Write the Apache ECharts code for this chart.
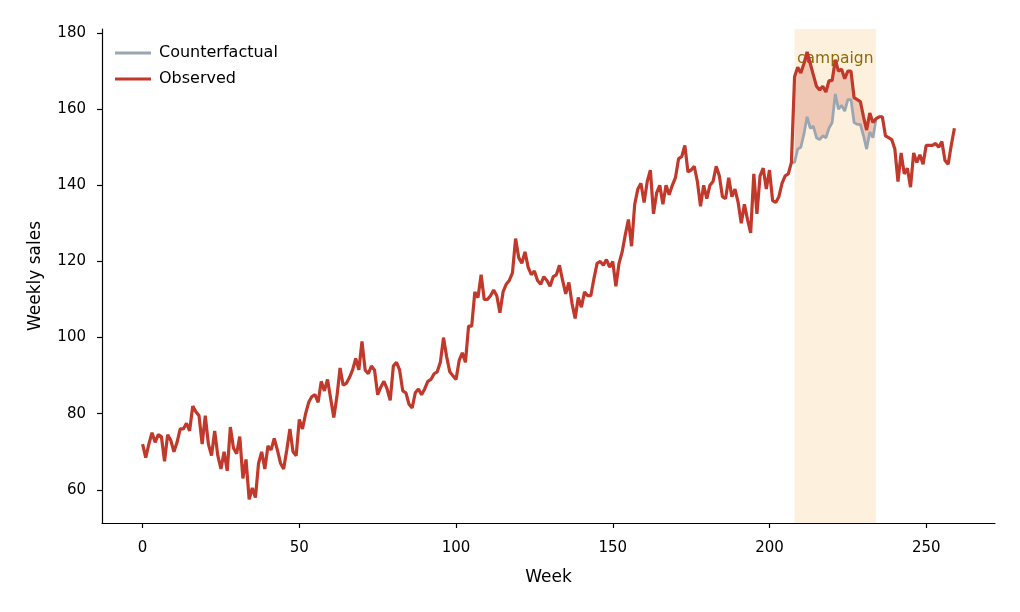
<!DOCTYPE html>
<html>
<head>
<meta charset="utf-8">
<script src="https://cdn.jsdelivr.net/npm/echarts@6/dist/echarts.min.js"></script>
<style>
  html, body { margin: 0; padding: 0; background: #fff; }
  #chart { width: 1020px; height: 612px; }
</style>
</head>
<body>
<div id="chart"></div>
<script>
// weekly observed sales, week 0..259
var observed = [
  72, 68.5, 72, 75, 72.5, 74.5, 74, 67.5, 74.5, 73,
  70, 72.5, 76, 76, 77.5, 75.5, 82, 80.5, 79.5, 72,
  79.5, 72, 69, 75.5, 69, 65.5, 70, 65, 76.5, 71,
  69.5, 74, 63, 68, 57.5, 60.5, 58, 67, 70, 65.5,
  71.5, 70.5, 73.5, 70.5, 67, 65.5, 70.5, 76, 70, 69,
  78.5, 76, 80, 83, 84.5, 85, 83, 88.5, 86, 89,
  84, 79, 84.5, 92, 87.5, 88, 89.5, 91.5, 94.5, 91.5,
  99, 91.5, 90.5, 92.5, 91.5, 85, 87, 88.5, 86.5, 83.5,
  92.5, 93.5, 91.5, 86, 85.5, 82.5, 81.5, 85.5, 86.5, 85,
  86.5, 88.5, 89, 90.5, 91, 93.5, 100, 95, 91, 90,
  89, 94, 96, 93.5, 103, 103, 112, 110.5, 116.5, 110,
  110, 111, 112.5, 111, 106.5, 112, 114, 115, 117, 126,
  121, 119.5, 122.5, 118.5, 116.5, 117.5, 115, 114, 116, 115,
  113.5, 116, 116.5, 119, 115, 111.5, 114.5, 109, 105, 110.5,
  108, 112, 111, 111, 115.5, 119.5, 120, 119, 120.5, 118.5,
  120, 113.5, 119.5, 122.5, 127, 131, 124, 135, 139, 140.5,
  135.5, 141, 144, 132.5, 138, 140, 135, 140, 137.5, 140,
  142, 147, 147.5, 150.5, 143.5, 144, 145, 141, 134.5, 140,
  136.5, 140, 141, 145, 142.5, 137, 136.5, 142, 137, 139,
  135.5, 130, 135, 131, 127.5, 143, 132.5, 142.5, 144.5, 139,
  144, 136, 135.5, 137, 140.5, 142.5, 143, 146, 168.5, 171,
  169.5, 172, 175, 172, 169, 166, 165, 166, 164.5, 167.5,
  167.5, 173, 170, 170.5, 168, 170, 170, 163, 162.5, 162,
  158, 154.5, 159, 156.5, 157.5, 158, 158, 153, 152.5, 152,
  149.5, 141, 148.5, 143, 144.5, 139.5, 148.5, 146, 148, 145.5,
  150.5, 150.5, 150.5, 151, 150, 151.5, 146.5, 145.5, 150.5, 155
];

// campaign window and counterfactual estimate inside it
var campaignStart = 208;
var campaignEnd = 234;
var counterfactual = [
  146, 149.5, 150, 153.5, 158, 155, 155.5, 152.5, 152, 153,
  152.5, 155, 156.5, 164, 160, 161, 159.5, 162.5, 162.5, 156.5,
  156, 156, 153, 149.5, 154, 152.5
];

var xTicks = [0, 50, 100, 150, 200, 250];
var yTicks = [60, 80, 100, 120, 140, 160, 180];

var RED = '#c0392b';
var GREY = '#9aa6b2';
var FONT = 'DejaVu Sans';

var obsData = observed.map(function (v, i) { return [i, v]; });

// counterfactual line joins the observed line at both ends of the window
var cfData = [[campaignStart - 1, observed[campaignStart - 1]]];
counterfactual.forEach(function (v, i) { cfData.push([campaignStart + i, v]); });
cfData.push([campaignEnd, observed[campaignEnd]]);

var chart = echarts.init(document.getElementById('chart'), null, { renderer: 'canvas' });

var option = {
  animation: false,
  backgroundColor: '#fff',
  textStyle: { fontFamily: FONT },
  grid: { left: 102, right: 25, top: 29, bottom: 89 },
  legend: {
    data: ['Counterfactual', 'Observed'],
    orient: 'vertical',
    left: 110,
    top: 40,
    itemWidth: 36,
    itemHeight: 3,
    itemGap: 10,
    icon: 'rect',
    textStyle: { fontFamily: FONT, fontSize: 16, color: '#000', padding: [0, 0, 0, 3] }
  },
  xAxis: {
    type: 'value',
    min: -12.95,
    max: 271.95,
    name: 'Week',
    nameLocation: 'middle',
    nameGap: 46,
    nameTextStyle: { fontFamily: FONT, fontSize: 17, color: '#000' },
    axisLine: { onZero: false, lineStyle: { color: '#000', width: 1.2 } },
    axisTick: { length: 5, lineStyle: { color: '#000', width: 1.2 }, customValues: xTicks },
    axisLabel: { customValues: xTicks, fontSize: 15, color: '#000', margin: 18 },
    splitLine: { show: false }
  },
  yAxis: {
    type: 'value',
    min: 51.3,
    max: 181.05,
    name: 'Weekly sales',
    nameLocation: 'middle',
    nameGap: 58,
    nameRotate: 90,
    nameTextStyle: { fontFamily: FONT, fontSize: 17, color: '#000' },
    axisLine: { show: true, onZero: false, lineStyle: { color: '#000', width: 1.2 } },
    axisTick: { show: true, length: 5, lineStyle: { color: '#000', width: 1.2 }, customValues: yTicks },
    axisLabel: { customValues: yTicks, fontSize: 15, color: '#000', margin: 16 },
    splitLine: { show: false }
  },
  series: [
    {
      name: 'campaignBand',
      type: 'line',
      data: [],
      z: 1,
      silent: true,
      markArea: {
        silent: true,
        itemStyle: { color: 'rgba(245,176,65,0.18)' },
        label: {
          show: true,
          position: 'insideTop',
          distance: 22,
          color: '#8a6a0a',
          fontFamily: FONT,
          fontSize: 15.5
        },
        data: [[{ name: 'campaign', xAxis: campaignStart }, { xAxis: campaignEnd }]]
      }
    },
    {
      name: 'lift',
      type: 'custom',
      z: 2,
      silent: true,
      data: [[220, 160]],
      renderItem: function (params, api) {
        var pts = [];
        var n = counterfactual.length;
        for (var i = 0; i < n; i++) {
          pts.push(api.coord([campaignStart + i, observed[campaignStart + i]]));
        }
        for (var j = n - 1; j >= 0; j--) {
          pts.push(api.coord([campaignStart + j, counterfactual[j]]));
        }
        return {
          type: 'polygon',
          shape: { points: pts },
          style: { fill: RED, opacity: 0.22 }
        };
      }
    },
    {
      name: 'Counterfactual',
      type: 'line',
      z: 3,
      data: cfData,
      showSymbol: false,
      color: GREY,
      lineStyle: { color: GREY, width: 2.8 }
    },
    {
      name: 'Observed',
      type: 'line',
      z: 4,
      data: obsData,
      showSymbol: false,
      color: RED,
      lineStyle: { color: RED, width: 3.2 }
    }
  ]
};

chart.setOption(option);
</script>
</body>
</html>
